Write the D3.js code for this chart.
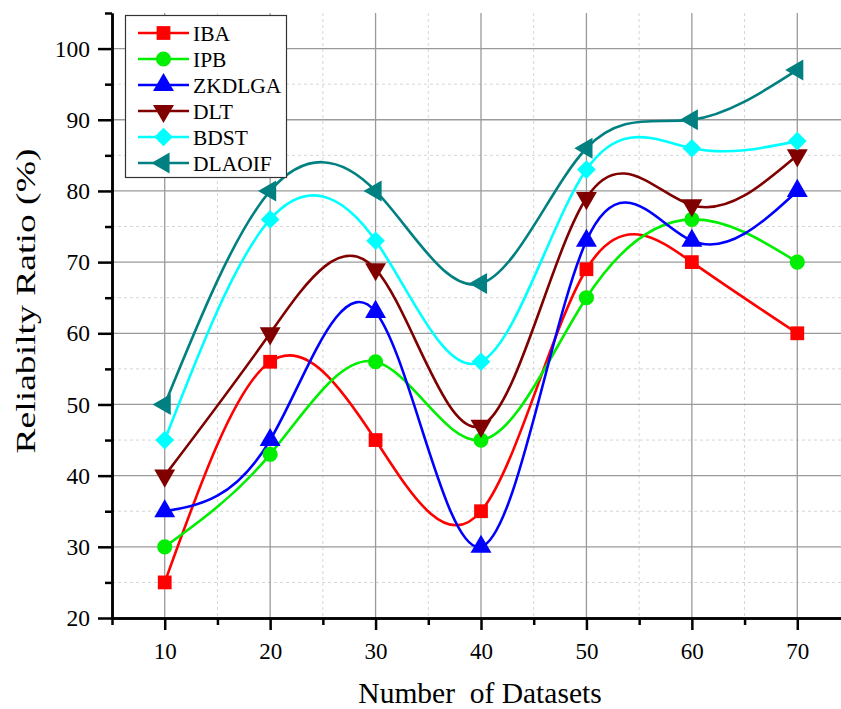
<!DOCTYPE html>
<html>
<head>
<meta charset="utf-8">
<script src="https://cdn.jsdelivr.net/npm/d3@7"></script>
<style>
    body { margin: 0; background: #fff; }
    svg text { font-family: "Times New Roman", Times, "Liberation Serif", Tinos, "Nimbus Roman", serif; }
</style>
</head>
<body>
<svg id="drawing_region"></svg>
<script>
// data
const datasets = [10, 20, 30, 40, 50, 60, 70];
const seriesNames = ['IBA', 'IPB', 'ZKDLGA', 'DLT', 'BDST', 'DLAOIF'];
const ibaValues    = [25, 56, 45, 35, 69, 70, 60];
const ipbValues    = [30, 43, 56, 45, 65, 76, 70];
const zkdlgaValues = [35, 45, 63, 30, 73, 73, 80];
const dltValues    = [40, 60, 69, 47, 79, 78, 85];
const bdstValues   = [45, 76, 73, 56, 83, 86, 87];
const dlaoifValues = [50, 80, 80, 67, 86, 90, 97];
const yTicks = [20, 30, 40, 50, 60, 70, 80, 90, 100];
const yMinorTicks = [25, 35, 45, 55, 65, 75, 85, 95, 105];
const xMinorTicks = [5, 15, 25, 35, 45, 55, 65, 75];

const colors = ['#ff0000', '#00ee00', '#0000ff', '#800000', '#00ffff', '#008080'];
const shapes = ['square', 'circle', 'up', 'down', 'diamond', 'left'];
const fontFamily = '"Times New Roman", Times, "Liberation Serif", Tinos, "Nimbus Roman", serif';

const seriesData = [ibaValues, ipbValues, zkdlgaValues, dltValues, bdstValues, dlaoifValues]
    .map( (vals, i) => ({
        name: seriesNames[i],
        color: colors[i],
        shape: shapes[i],
        points: vals.map( (v, j) => ({x: datasets[j], y: v}) )
    }));

class LineChart {

    constructor( config, data ) {
        this.config = {
            parent: config.parent,
            width: config.width || 841,
            height: config.height || 709,
            margin: config.margin || {top:13, right:0, bottom:91, left:112}
        }
        this.data = data;
        this.init();
    }

    init() {
        let self = this;

        self.svg = d3.select( self.config.parent )
            .attr('width', self.config.width)
            .attr('height', self.config.height)
            .attr('font-family', fontFamily);

        self.chart = self.svg.append('g')
            .attr('transform', `translate(${self.config.margin.left}, ${self.config.margin.top})`);

        self.inner_height = 605;
        self.inner_width = 738;

        self.xscale = d3.scaleLinear()
            .domain( [5, 75] )
            .range( [0, self.inner_width] );

        self.yscale = d3.scaleLinear()
            .domain( [20, 105] )
            .range( [self.inner_height, 0] );

        self.line = d3.line()
            .x( d => self.xscale( d.x ) )
            .y( d => self.yscale( d.y ) )
            .curve( d3.curveNatural );
    }

    symbolPath( shape ) {
        if (shape == 'square') return d3.symbol().type(d3.symbolSquare).size(190)();
        if (shape == 'circle') return d3.symbol().type(d3.symbolCircle).size(180)();
        if (shape == 'diamond') return d3.symbol().type(d3.symbolSquare).size(175)();
        return d3.symbol().type(d3.symbolTriangle).size(190)();
    }

    symbolRotate( shape ) {
        if (shape == 'down') return 180;
        if (shape == 'left') return -90;
        if (shape == 'diamond') return 45;
        return 0;
    }

    render() {
        let self = this;

        // minor grid
        self.chart.append('g')
            .selectAll('line')
            .data( xMinorTicks.slice(1) )
            .join('line')
            .attr('x1', d => self.xscale(d)).attr('x2', d => self.xscale(d))
            .attr('y1', 0).attr('y2', self.inner_height)
            .attr('stroke', '#d6d6d6').attr('stroke-dasharray', '3,3');

        self.chart.append('g')
            .selectAll('line')
            .data( yMinorTicks.slice(0, -1) )
            .join('line')
            .attr('x1', 0).attr('x2', self.inner_width)
            .attr('y1', d => self.yscale(d)).attr('y2', d => self.yscale(d))
            .attr('stroke', '#d6d6d6').attr('stroke-dasharray', '3,3');

        // major grid
        self.chart.append('g')
            .selectAll('line')
            .data( datasets )
            .join('line')
            .attr('x1', d => self.xscale(d)).attr('x2', d => self.xscale(d))
            .attr('y1', 0).attr('y2', self.inner_height)
            .attr('stroke', '#9a9a9a').attr('stroke-width', 1.3);

        self.chart.append('g')
            .selectAll('line')
            .data( yTicks.slice(1) )
            .join('line')
            .attr('x1', 0).attr('x2', self.inner_width)
            .attr('y1', d => self.yscale(d)).attr('y2', d => self.yscale(d))
            .attr('stroke', '#9a9a9a').attr('stroke-width', 1.3);

        // series
        self.chart.selectAll('path.series')
            .data( self.data )
            .join('path')
            .attr('class', 'series')
            .attr('d', d => self.line( d.points ))
            .attr('fill', 'none')
            .attr('stroke', d => d.color)
            .attr('stroke-width', 2.6);

        self.data.forEach( s => {
            self.chart.append('g')
                .selectAll('path')
                .data( s.points )
                .join('path')
                .attr('d', self.symbolPath( s.shape ))
                .attr('transform', d => `translate(${self.xscale(d.x)}, ${self.yscale(d.y)}) rotate(${self.symbolRotate(s.shape)})`)
                .attr('fill', s.color);
        });

        // axes
        const xaxis = d3.axisBottom( self.xscale )
            .tickValues( datasets )
            .tickSize(12)
            .tickSizeOuter(0)
            .tickPadding(13);
        const xaxis_minor = d3.axisBottom( self.xscale )
            .tickValues( xMinorTicks )
            .tickSize(7)
            .tickSizeOuter(0)
            .tickFormat('');
        const yaxis = d3.axisLeft( self.yscale )
            .tickValues( yTicks )
            .tickSize(14)
            .tickSizeOuter(0)
            .tickPadding(8);
        const yaxis_minor = d3.axisLeft( self.yscale )
            .tickValues( yMinorTicks )
            .tickSize(7)
            .tickSizeOuter(0)
            .tickFormat('');

        [xaxis_minor, xaxis].forEach( ax => {
            self.chart.append('g')
                .attr('transform', `translate(0, ${self.inner_height})`)
                .call( ax )
                .attr('font-family', fontFamily)
                .call( g => g.selectAll('line, path').attr('stroke', '#000').attr('stroke-width', 2.5) )
                .call( g => g.selectAll('text').attr('font-size', 23).attr('fill', '#000') );
        });
        [yaxis_minor, yaxis].forEach( ax => {
            self.chart.append('g')
                .call( ax )
                .attr('font-family', fontFamily)
                .call( g => g.selectAll('line, path').attr('stroke', '#000').attr('stroke-width', 2.5) )
                .call( g => g.selectAll('text').attr('font-size', 23.5).attr('fill', '#000') );
        });

        // axis titles
        self.svg.append('text')
            .attr('x', 480).attr('y', 703)
            .attr('text-anchor', 'middle')
            .attr('font-size', 29.5)
            .attr('xml:space', 'preserve')
            .text('Number  of Datasets');

        self.svg.append('text')
            .attr('transform', 'translate(35, 301) rotate(-90)')
            .attr('text-anchor', 'middle')
            .attr('font-size', 28)
            .attr('textLength', 305)
            .attr('lengthAdjust', 'spacingAndGlyphs')
            .text('Reliabilty Ratio (%)');

        // legend
        const legend = self.svg.append('g');
        legend.append('rect')
            .attr('x', 125.5).attr('y', 15.5)
            .attr('width', 161).attr('height', 162)
            .attr('fill', '#fff')
            .attr('stroke', '#333').attr('stroke-width', 1.2);

        const items = legend.selectAll('g.item')
            .data( self.data )
            .join('g')
            .attr('transform', (d, i) => `translate(138, ${33 + i * 26})`);
        items.append('line')
            .attr('x1', 0).attr('x2', 51)
            .attr('stroke', d => d.color).attr('stroke-width', 2.6);
        items.append('path')
            .attr('d', d => self.symbolPath( d.shape ))
            .attr('transform', d => `translate(25.5, 0) rotate(${self.symbolRotate(d.shape)})`)
            .attr('fill', d => d.color);
        items.append('text')
            .attr('x', 55).attr('dy', '0.35em')
            .attr('font-size', 21.5)
            .text( d => d.name );
    }
}

const chart = new LineChart( {parent: '#drawing_region', width: 841, height: 709}, seriesData );
chart.render();
</script>
</body>
</html>
